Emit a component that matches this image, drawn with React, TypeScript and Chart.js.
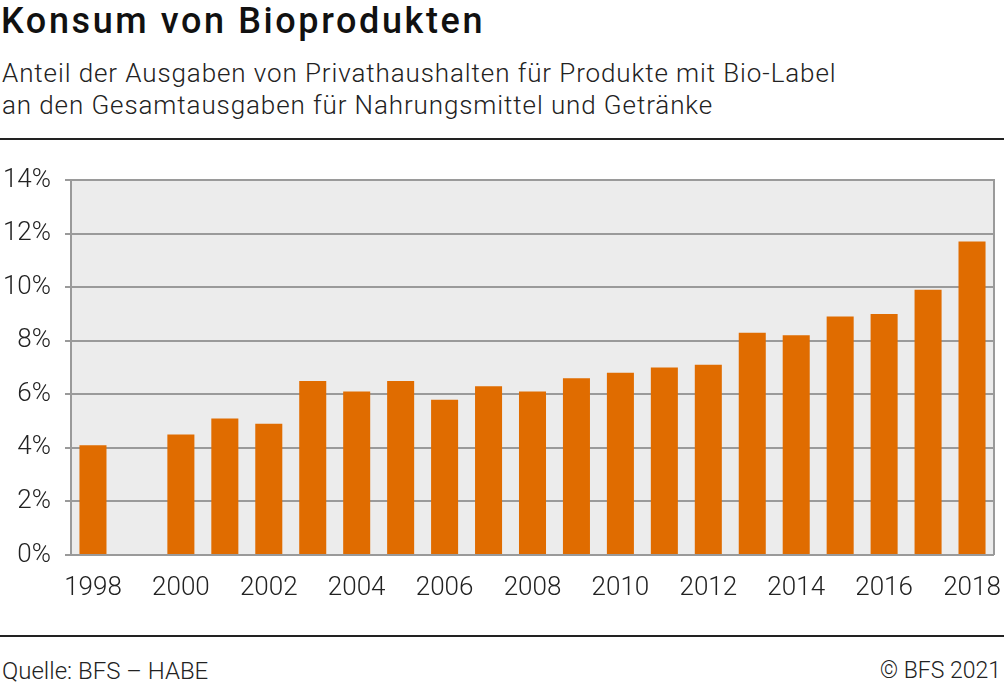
import React, { useEffect, useRef } from "react";
import { Chart, registerables } from "chart.js";

Chart.register(...registerables);

const years = ["1998","1999","2000","2001","2002","2003","2004","2005","2006","2007","2008","2009","2010","2011","2012","2013","2014","2015","2016","2017","2018"];
const shares: (number | null)[] = [4.1, null, 4.5, 5.1, 4.9, 6.5, 6.1, 6.5, 5.8, 6.3, 6.1, 6.6, 6.8, 7.0, 7.1, 8.3, 8.2, 8.9, 9.0, 9.9, 11.7];
const yTicks = [0, 2, 4, 6, 8, 10, 12, 14];

const FONT = "Roboto, 'DejaVu Sans', sans-serif";

const plotFrame = {
  id: "plotFrame",
  beforeDraw(chart: any) {
    const { ctx, chartArea } = chart;
    ctx.save();
    ctx.fillStyle = "#ececec";
    ctx.fillRect(chartArea.left, chartArea.top, chartArea.right - chartArea.left, chartArea.bottom - chartArea.top);
    ctx.restore();
  },
  afterDatasetsDraw(chart: any) {
    const { ctx, chartArea } = chart;
    ctx.save();
    ctx.strokeStyle = "#9a9a9a";
    ctx.lineWidth = 2;
    ctx.beginPath();
    ctx.moveTo(chartArea.right, chartArea.top - 1);
    ctx.lineTo(chartArea.right, chartArea.bottom);
    ctx.stroke();
    ctx.restore();
  },
};

function BarChart() {
  const ref = useRef<HTMLCanvasElement | null>(null);
  useEffect(() => {
    if (!ref.current) return;
    const chart = new Chart(ref.current, {
      type: "bar",
      data: {
        labels: years,
        datasets: [
          {
            data: shares as any,
            backgroundColor: "#e06c00",
            borderWidth: 0,
            barPercentage: 0.615,
            categoryPercentage: 1,
          },
        ],
      },
      options: {
        animation: false,
        responsive: false,
        maintainAspectRatio: false,
        layout: { padding: { top: 20, right: 10, left: 0, bottom: 0 } },
        plugins: { legend: { display: false }, tooltip: { enabled: false } },
        scales: {
          x: {
            grid: { display: false, drawTicks: false },
            border: { display: false },
            ticks: {
              autoSkip: false,
              maxRotation: 0,
              padding: 18,
              color: "#222",
              font: { family: FONT, size: 26, weight: "300" as any },
              callback: (_v: any, i: number) => (i % 2 === 0 ? years[i] : ""),
            },
            afterFit: (s: any) => {
              s.height = 75;
              s.paddingLeft = 0;
              s.paddingRight = 0;
            },
          },
          y: {
            min: 0,
            max: 14,
            afterBuildTicks: (s: any) => { s.ticks = yTicks.map((v) => ({ value: v })); },
            grid: { color: "#9a9a9a", lineWidth: 2, tickLength: 6, drawOnChartArea: true },
            border: { color: "#9a9a9a", width: 2 },
            ticks: {
              padding: 14,
              color: "#222",
              font: { family: FONT, size: 26, weight: "300" as any },
              callback: (v: any) => v + "%",
            },
            afterFit: (s: any) => {
              s.width = 71;
              s.paddingTop = 0;
              s.paddingBottom = 0;
            },
          },
        },
      },
      plugins: [plotFrame],
    });
    return () => chart.destroy();
  }, []);
  return <canvas ref={ref} width={1004} height={470} style={{ position: "absolute", left: 0, top: 160, width: 1004, height: 470 }} />;
}

export default function App() {
  return (
    <div style={{ position: "absolute", left: 0, top: 0, width: 1004, height: 684, background: "#fff", fontFamily: FONT, color: "#111", overflow: "hidden" }}>
      <div style={{ position: "absolute", left: 1, top: 0, fontSize: 36, fontWeight: 500, lineHeight: "42px", letterSpacing: 2.6, whiteSpace: "nowrap" }}>Konsum von Bioprodukten</div>
      <div style={{ position: "absolute", left: 2, top: 57, fontSize: 26, fontWeight: 300, lineHeight: "32px", letterSpacing: 0.9, color: "#222", whiteSpace: "nowrap" }}>
        Anteil der Ausgaben von Privathaushalten für Produkte mit Bio-Label
        <br />
        an den Gesamtausgaben für Nahrungsmittel und Getränke
      </div>
      <div style={{ position: "absolute", left: 0, top: 138, width: 1004, height: 2, background: "#222" }} />
      <BarChart />
      <div style={{ position: "absolute", left: 0, top: 635, width: 1004, height: 2, background: "#222" }} />
      <div style={{ position: "absolute", left: 2, top: 657, fontSize: 24, fontWeight: 300, lineHeight: "28px", color: "#222", whiteSpace: "nowrap" }}>Quelle: BFS – HABE</div>
      <div style={{ position: "absolute", right: 3, top: 657, fontSize: 23, fontWeight: 300, lineHeight: "28px", color: "#222", whiteSpace: "nowrap" }}>© BFS 2021</div>
    </div>
  );
}
